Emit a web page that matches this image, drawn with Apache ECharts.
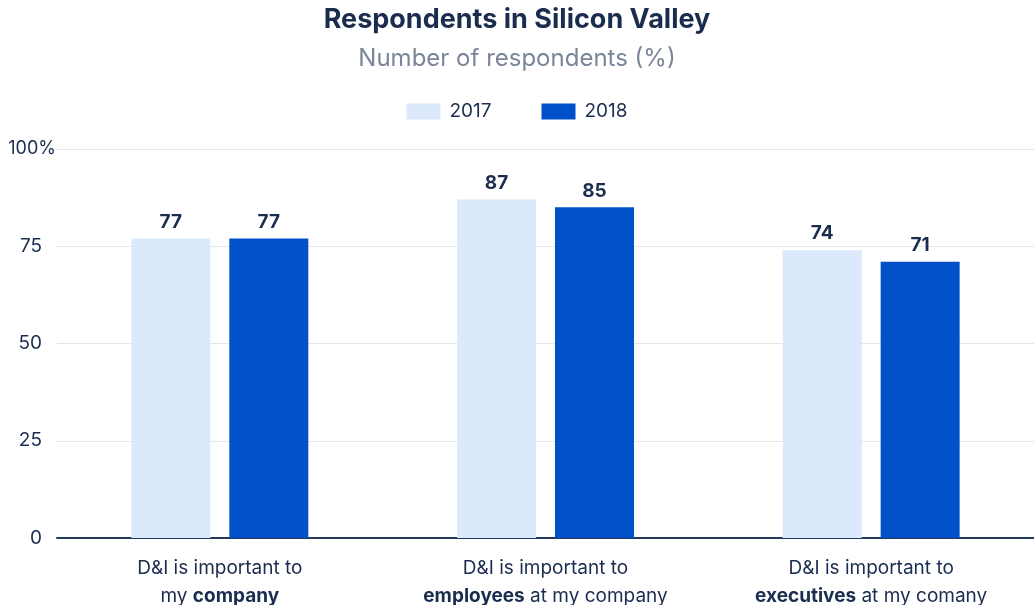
<!DOCTYPE html>
<html>
<head>
<meta charset="utf-8">
<script src="https://cdn.jsdelivr.net/npm/echarts@6/dist/echarts.min.js"></script>
<style>
  html, body { margin: 0; padding: 0; background: #fff; }
  #chart { width: 1034px; height: 605px; }
</style>
</head>
<body>
<div id="chart"></div>
<script>
// Survey statements (bold fragments marked with {b|...})
const categories = [
  'D&I is important to\nmy {b|company}',
  'D&I is important to\n{b|employees} at my company',
  'D&I is important to\n{b|executives} at my comany'
];
const seriesNames = ['2017', '2018'];
const values2017 = [77, 87, 74];
const values2018 = [77, 85, 71];
const yTicks = [0, 25, 50, 75, 100];

const navy = '#1b2d4f';
const fontFamily = 'Inter, "Noto Sans", sans-serif';

const chart = echarts.init(document.getElementById('chart'));

const valueLabel = {
  show: true,
  position: 'top',
  distance: 7,
  color: navy,
  fontSize: 19,
  fontWeight: 'bold',
  fontFamily: fontFamily
};

chart.setOption({
  animation: false,
  textStyle: { fontFamily: fontFamily },
  title: [
    {
      text: 'Respondents in Silicon Valley',
      left: 'center',
      top: 1,
      textStyle: { fontSize: 27, fontWeight: 'bold', color: navy, fontFamily: fontFamily }
    },
    {
      text: 'Number of respondents (%)',
      left: 'center',
      top: 42,
      textStyle: { fontSize: 24, fontWeight: 'normal', color: '#7a8599', fontFamily: fontFamily }
    }
  ],
  legend: {
    top: 97,
    left: 'center',
    itemWidth: 34,
    itemHeight: 16,
    itemGap: 50,
    icon: 'rect',
    textStyle: { fontSize: 19, color: navy, fontFamily: fontFamily, padding: [0, 0, 0, 4] },
    data: seriesNames
  },
  grid: {
    left: 57,
    right: 0,
    top: 149,
    bottom: 67,
    containLabel: false,
    outerBoundsMode: 'none'
  },
  xAxis: {
    type: 'category',
    data: categories,
    axisTick: { show: false },
    axisLine: { lineStyle: { color: '#24395e', width: 2 } },
    axisLabel: {
      interval: 0,
      margin: 16,
      fontSize: 19,
      color: navy,
      lineHeight: 28,
      fontFamily: fontFamily,
      rich: {
        b: { fontSize: 19, fontWeight: 'bold', color: navy, lineHeight: 28, fontFamily: fontFamily }
      }
    }
  },
  yAxis: {
    type: 'value',
    min: yTicks[0],
    max: yTicks[yTicks.length - 1],
    interval: 25,
    axisLine: { show: false },
    axisTick: { show: false },
    splitLine: { lineStyle: { color: '#e6e6e6', width: 1 } },
    axisLabel: {
      margin: 15,
      fontSize: 19,
      color: navy,
      fontFamily: fontFamily,
      // the top tick carries the unit and sits closer to the plot edge
      formatter: function (v) { return v === 100 ? '{top|100%}' : String(v); },
      rich: {
        top: { fontSize: 18, color: navy, fontFamily: fontFamily, padding: [0, -14, 0, 0] }
      }
    }
  },
  series: [
    {
      name: seriesNames[0],
      type: 'bar',
      data: values2017,
      barWidth: 79,
      barGap: '24%',
      itemStyle: { color: '#dce8fb' },
      label: valueLabel
    },
    {
      name: seriesNames[1],
      type: 'bar',
      data: values2018,
      barWidth: 79,
      barGap: '24%',
      itemStyle: { color: '#0050c8' },
      label: valueLabel
    }
  ]
});
</script>
</body>
</html>
